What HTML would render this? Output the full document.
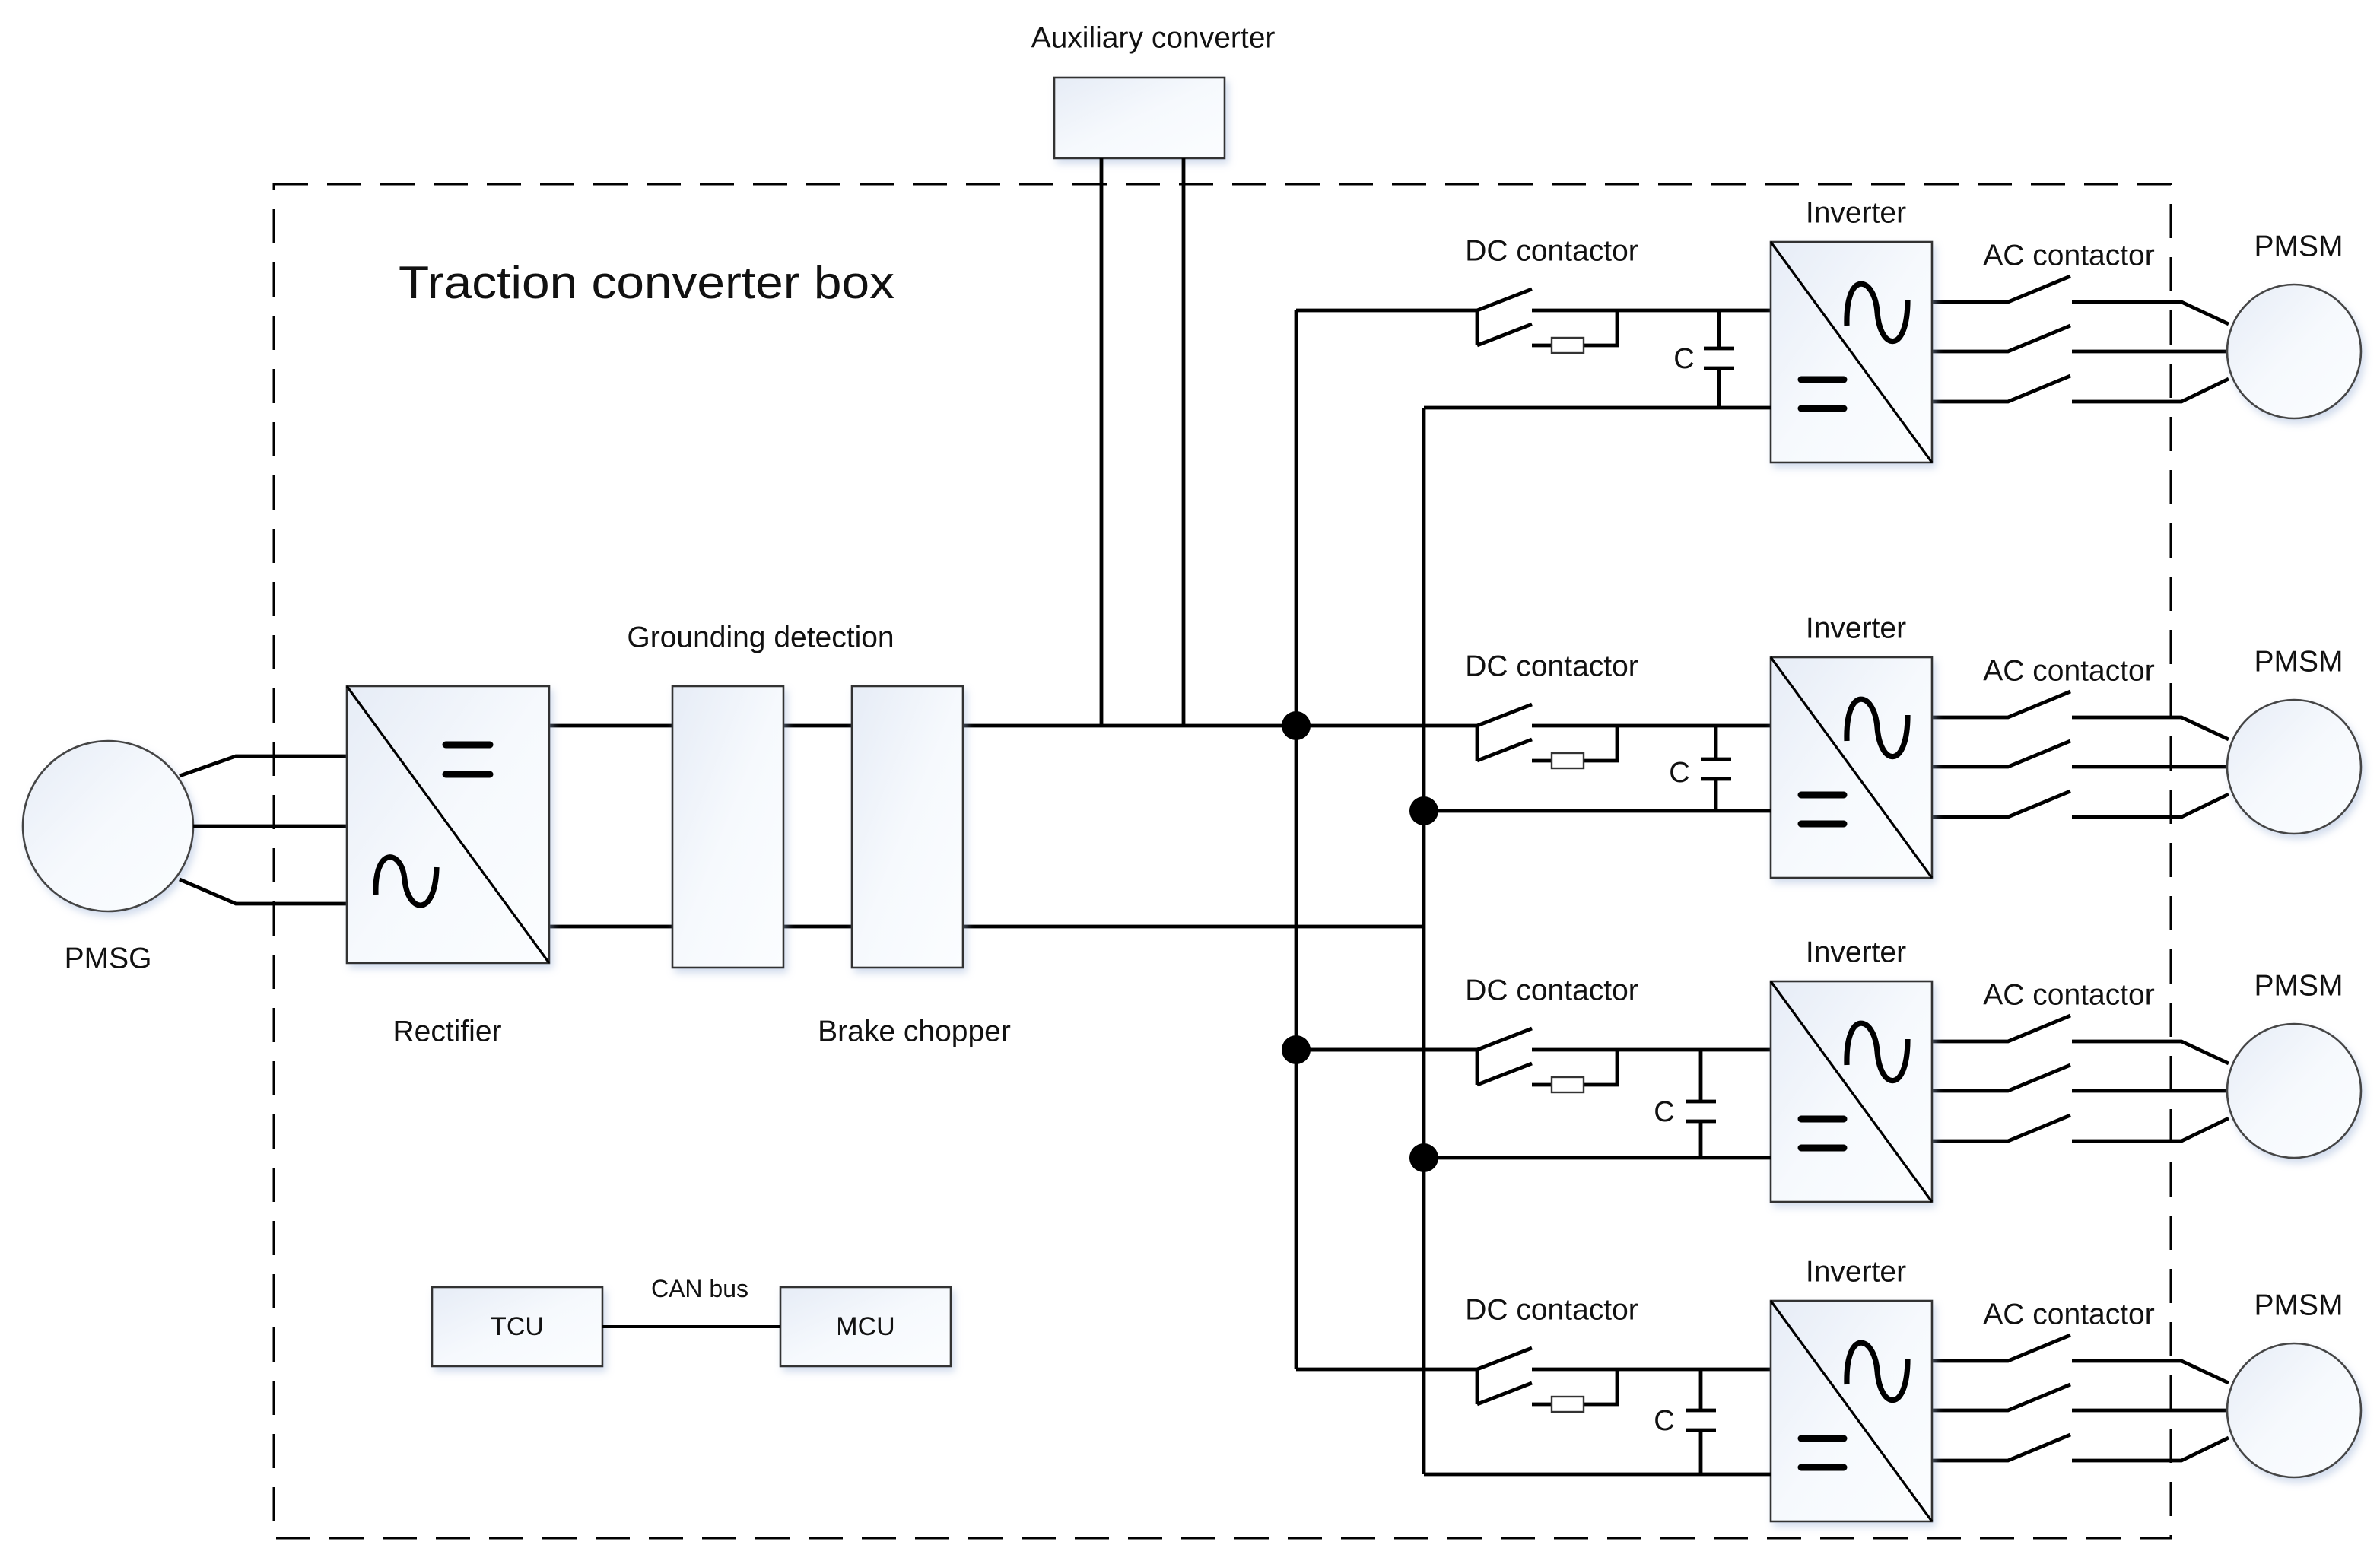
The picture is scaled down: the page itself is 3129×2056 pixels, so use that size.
<!DOCTYPE html>
<html><head><meta charset="utf-8"><style>
html,body{margin:0;padding:0;background:#fff;}
svg{display:block;}
text{font-family:"Liberation Sans",sans-serif;fill:#111;}
</style></head><body>
<svg width="3129" height="2056" viewBox="0 0 1564.5 1028" xmlns="http://www.w3.org/2000/svg">
<defs>
<linearGradient id="g" x1="0" y1="0" x2="1" y2="1">
<stop offset="0" stop-color="#e6ecf6"/><stop offset="0.5" stop-color="#f6f9fd"/><stop offset="1" stop-color="#fbfdff"/>
</linearGradient>
<filter id="sh" x="-20%" y="-20%" width="140%" height="140%"><feDropShadow dx="2" dy="3" stdDeviation="2.5" flood-color="#9db4d8" flood-opacity="0.45"/></filter>
<g id="branch">
  <g fill="none" stroke="#000" stroke-width="2.4">
    <path d="M852,45 H971 M1007,45 H1164 M971,45 V68 M971,45 L1007,31 M971,68 L1007,54 M1007,68 H1020 M1041,68 H1063 V45"/>
    <path d="M1270,39.5 H1320 L1361,22.5 M1362,39.5 H1434 L1465,54"/>
    <path d="M1270,72 H1320 L1361,55 M1362,72 H1463"/>
    <path d="M1270,105 H1320 L1361,88 M1362,105 H1434 L1465,90"/>
  </g>
  <rect x="1020" y="63" width="21" height="10" fill="#fff" stroke="#333" stroke-width="1.2"/>
  <rect x="1164" y="0" width="106" height="145" fill="url(#g)" stroke="#333" stroke-width="1.3" filter="url(#sh)"/>
  <path d="M1164,0 L1270,145" stroke="#000" stroke-width="1.6"/>
  <path d="M1184,90.5 H1212 M1184,109.5 H1212" stroke="#000" stroke-width="4.5" stroke-linecap="round"/>
  <path d="M1214,55 C1213,18 1232,22 1234,46 C1236,72 1254,74 1254,38" fill="none" stroke="#000" stroke-width="3.6"/>
  <circle cx="1508" cy="72" r="44" fill="url(#g)" stroke="#444" stroke-width="1.3" filter="url(#sh)"/>
  <text x="1220" y="-19" font-size="19.5" text-anchor="middle" dominant-baseline="central">Inverter</text>
  <text x="1020" y="6" font-size="19.5" text-anchor="middle" dominant-baseline="central">DC contactor</text>
  <text x="1360" y="9" font-size="19.5" text-anchor="middle" dominant-baseline="central">AC contactor</text>
  <text x="1511" y="3" font-size="19.5" text-anchor="middle" dominant-baseline="central">PMSM</text>
</g>
</defs>

<rect x="180" y="121" width="1247" height="890" fill="none" stroke="#000" stroke-width="1.5" stroke-dasharray="22.5,12.5"/>

<text x="262" y="196" font-size="30" textLength="326" lengthAdjust="spacingAndGlyphs">Traction converter box</text>

<text x="758" y="25" font-size="19.5" text-anchor="middle" dominant-baseline="central">Auxiliary converter</text>
<rect x="693" y="51" width="112" height="53" fill="url(#g)" stroke="#333" stroke-width="1.3" filter="url(#sh)"/>
<path d="M724,104 V477 M778,104 V477" stroke="#000" stroke-width="2.4"/>

<circle cx="71" cy="543" r="56" fill="url(#g)" stroke="#444" stroke-width="1.3" filter="url(#sh)"/>
<text x="71" y="630" font-size="19.5" text-anchor="middle" dominant-baseline="central">PMSG</text>
<path d="M118,510 L155,497 H228 M127,543 H228 M118,578 L155,594 H228" fill="none" stroke="#000" stroke-width="2.4"/>

<path d="M361,477 H852 M361,609 H936 M852,204 V900 M936,268 V969" fill="none" stroke="#000" stroke-width="2.4"/>

<rect x="228" y="451" width="133" height="182" fill="url(#g)" stroke="#333" stroke-width="1.3" filter="url(#sh)"/>
<path d="M228,451 L361,633" stroke="#000" stroke-width="1.6"/>
<path d="M293,489.5 H322 M293,509 H322" stroke="#000" stroke-width="4.5" stroke-linecap="round"/>
<path d="M247,588 C246,556 264,558 266,578 C268,600 286,604 287,570" fill="none" stroke="#000" stroke-width="3.6"/>
<text x="294" y="678" font-size="19.5" text-anchor="middle" dominant-baseline="central">Rectifier</text>

<rect x="442" y="451" width="73" height="185" fill="url(#g)" stroke="#333" stroke-width="1.3" filter="url(#sh)"/>
<rect x="560" y="451" width="73" height="185" fill="url(#g)" stroke="#333" stroke-width="1.3" filter="url(#sh)"/>
<text x="500" y="419" font-size="19.5" text-anchor="middle" dominant-baseline="central">Grounding detection</text>
<text x="601" y="678" font-size="19.5" text-anchor="middle" dominant-baseline="central">Brake chopper</text>

<g transform="translate(0,159)"><use href="#branch"/>
  <path d="M936,109 H1164 M1130,45 V70 M1130,83 V109 M1120,70 H1140 M1120,83 H1140" stroke="#000" stroke-width="2.4" fill="none"/>
  <text x="1107" y="77" font-size="19" text-anchor="middle" dominant-baseline="central">C</text></g>
<g transform="translate(0,432)"><use href="#branch"/>
  <path d="M936,101 H1164 M1128,45 V67 M1128,80 V101 M1118,67 H1138 M1118,80 H1138" stroke="#000" stroke-width="2.4" fill="none"/>
  <text x="1104" y="76" font-size="19" text-anchor="middle" dominant-baseline="central">C</text></g>
<g transform="translate(0,645)"><use href="#branch"/>
  <path d="M852,45 H971 M936,116 H1164 M1118,45 V79 M1118,92 V116 M1108,79 H1128 M1108,92 H1128" stroke="#000" stroke-width="2.4" fill="none"/>
  <text x="1094" y="86" font-size="19" text-anchor="middle" dominant-baseline="central">C</text></g>
<g transform="translate(0,855)"><use href="#branch"/>
  <path d="M936,114 H1164 M1118,45 V72 M1118,85 V114 M1108,72 H1128 M1108,85 H1128" stroke="#000" stroke-width="2.4" fill="none"/>
  <text x="1094" y="79" font-size="19" text-anchor="middle" dominant-baseline="central">C</text></g>

<g fill="#000"><circle cx="852" cy="477" r="9.5"/><circle cx="936" cy="533" r="9.5"/><circle cx="852" cy="690" r="9.5"/><circle cx="936" cy="761" r="9.5"/></g>

<rect x="284" y="846" width="112" height="52" fill="url(#g)" stroke="#333" stroke-width="1.3" filter="url(#sh)"/>
<rect x="513" y="846" width="112" height="52" fill="url(#g)" stroke="#333" stroke-width="1.3" filter="url(#sh)"/>
<path d="M396,872 H513" stroke="#000" stroke-width="2"/>
<text x="340" y="872" font-size="17" text-anchor="middle" dominant-baseline="central">TCU</text>
<text x="569" y="872" font-size="17" text-anchor="middle" dominant-baseline="central">MCU</text>
<text x="460" y="847" font-size="16" text-anchor="middle" dominant-baseline="central">CAN bus</text>
</svg>
</body></html>
